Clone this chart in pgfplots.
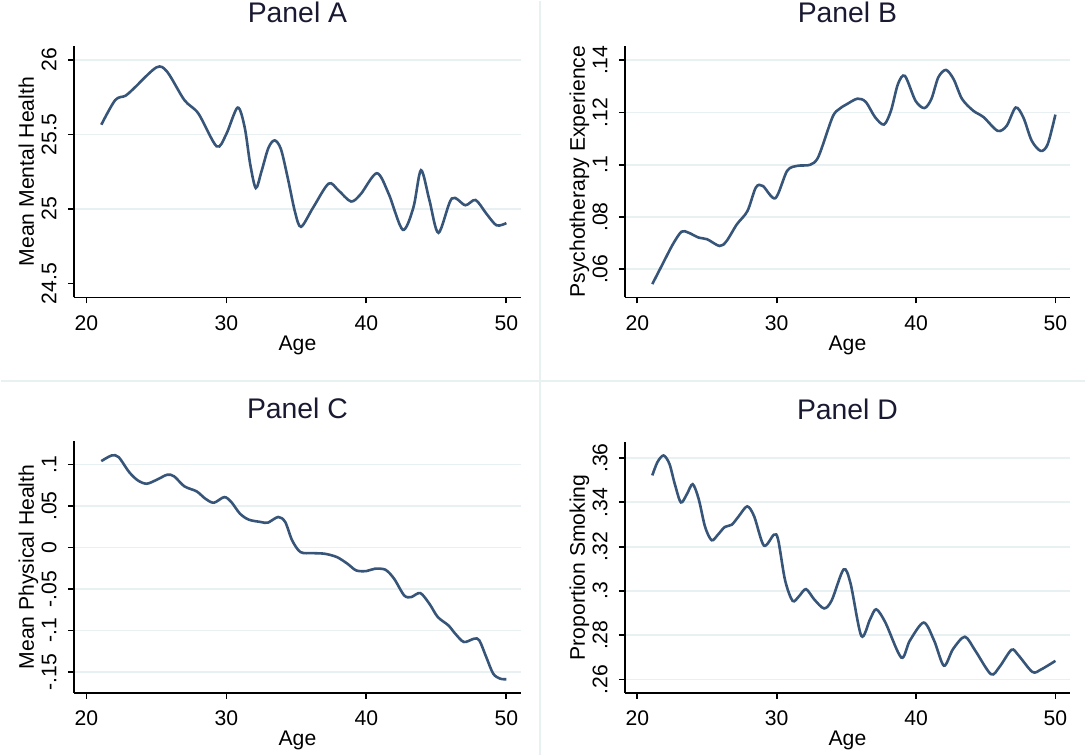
\documentclass[border=0pt]{standalone}
\usepackage{fontspec}
\setmainfont{Liberation Sans}
\usepackage{pgfplots}
\pgfplotsset{compat=1.18}
\definecolor{linec}{RGB}{55,85,120}
\definecolor{gridc}{RGB}{232,240,242}
\definecolor{titlec}{RGB}{25,25,50}

\pgfplotsset{stata/.style={
  scale only axis, anchor=south west,
  xmin=19.1, xmax=51.05,
  axis x line*=bottom, axis y line*=left,
  axis line style={line width=0.9pt, black, -},
  tick align=outside, major tick length=3pt,
  tick style={line width=0.9pt, black},
  xtick={20,30,40,50}, xticklabels={20,30,40,50},
  ymajorgrids, grid style={gridc, line width=0.9pt},
  tick label style={font=\fontsize{10.6}{12}\selectfont, inner sep=0pt},
  xticklabel style={anchor=north, yshift=-6pt},
  yticklabel style={xshift=-5.5pt, rotate=90, anchor=south},
  label style={font=\fontsize{10.6}{12}\selectfont, inner sep=0pt},
  xlabel style={at={([yshift=-26.5pt]axis description cs:0.5,0)}, anchor=base},
  ylabel style={at={([xshift=-20pt]axis description cs:0,0.5)}, anchor=base},
  title style={at={([yshift=5.5pt]axis description cs:0.5,1)}, anchor=base,
    font=\fontsize{14.2}{16}\selectfont, text=titlec, inner sep=0pt},
  xlabel={Age},
},
curve/.style={color=linec, line width=1.3pt, smooth, mark=none}}

\begin{document}
\begin{tikzpicture}
\path (0,0) rectangle (543pt,377.5pt);
\draw[gridc, line width=1pt] (270pt,0) -- (270pt,377.5pt);
\draw[gridc, line width=1pt] (0,187pt) -- (543pt,187pt);

% Panel A
\begin{axis}[stata, at={(36.5pt,229pt)}, width=224pt, height=126pt,
  ymin=24.406, ymax=26.094,
  ytick={25,25.5,26}, yticklabels={25,25.5,26},
  extra y ticks={24.5}, extra y tick labels={24.5}, extra y tick style={grid=none},
  ylabel={Mean Mental Health}, title={Panel A}]
\addplot[curve] coordinates {
(21.06,25.565) (22.05,25.73) (22.8,25.76) (23.4,25.81) (25.0,25.95) (25.77,25.92)
(27.0,25.73) (28.0,25.64) (29.3,25.42) (29.98,25.50) (30.8,25.68) (31.3,25.55)
(31.7,25.30) (32.1,25.14) (32.5,25.25) (33.0,25.41) (33.45,25.46) (33.9,25.40)
(34.4,25.20) (34.9,24.98) (35.33,24.88) (36.2,25.01)
(37.3,25.17) (38.0,25.125) (38.9,25.05) (39.6,25.10) (40.75,25.24) (41.6,25.10)
(42.6,24.86) (43.36,25.01) (43.9,25.26) (44.5,25.06) (45.15,24.84) (46.1,25.07)
(47.07,25.025) (47.8,25.06) (48.56,24.97) (49.3,24.89) (50,24.905)
};
\end{axis}

% Panel B
\begin{axis}[stata, at={(312.5pt,229pt)}, width=223pt, height=126pt,
  ymin=0.0492, ymax=0.1455,
  ytick={0.06,0.08,0.1,0.12,0.14}, yticklabels={.06,.08,.1,.12,.14},
  ylabel={Psychotherapy Experience}, title={Panel B}]
\addplot[curve] coordinates {
(21.07,.0543) (21.8,.0619) (22.55,.0696) (23.17,.0744) (23.67,.0740) (24.4,.0721)
(25.0,.0715) (25.9,.0689) (26.4,.0708) (27.14,.0772) (27.9,.0823) (28.5,.0913)
(29.0,.0919) (29.9,.0872) (30.75,.0977) (31.5,.0996) (32.4,.1000) (33.0,.1032)
(34.0,.1182) (34.5,.1214) (35.0,.1231) (35.8,.1253) (36.4,.1240) (37.06,.1182)
(37.7,.1154) (38.2,.1207) (38.7,.1309) (39.2,.1340) (39.96,.1245) (40.6,.1217)
(41.1,.1252) (41.6,.1335) (42.15,.1363) (42.7,.1327) (43.3,.1252) (44.1,.1207)
(44.85,.1182) (45.85,.1130) (46.5,.1149) (47.15,.1219) (47.7,.1181) (48.3,.1092)
(48.95,.1053) (49.45,.1079) (50.0,.1192)
};
\end{axis}

% Panel C
\begin{axis}[stata, at={(36.5pt,31pt)}, width=224pt, height=126pt,
  ymin=-0.1749, ymax=0.128,
  ytick={-0.15,-0.1,-0.05,0,0.05,0.1}, yticklabels={-.15,-.1,-.05,0,.05,.1},
  ylabel={Mean Physical Health}, title={Panel C}]
\addplot[curve] coordinates {
(21.06,.104) (21.8,.1108) (22.3,.1088) (23.05,.0908) (23.67,.0808) (24.3,.0768)
(25.03,.0816) (25.77,.0876) (26.27,.0856) (27.0,.0736) (27.87,.0676) (28.5,.0587)
(29.1,.0539) (29.85,.0607) (30.35,.0547) (30.97,.0407) (31.6,.0335) (32.46,.0307)
(32.96,.0299) (33.7,.0367) (34.2,.0307) (34.7,.0084) (35.3,-.0056) (36.2,-.0068)
(37.04,-.0076) (37.9,-.0116) (38.65,-.0196) (39.27,-.0276) (40.0,-.0284) (40.6,-.0256)
(41.36,-.0268) (41.98,-.0376) (42.7,-.0577) (43.2,-.0597) (43.85,-.0549) (44.5,-.0677)
(45.1,-.0837) (45.86,-.0938) (46.35,-.1038) (46.97,-.1138) (47.7,-.1098) (48.07,-.1118)
(48.56,-.1318) (49.06,-.1519) (49.55,-.1579) (50,-.1587)
};
\end{axis}

% Panel D
\begin{axis}[stata, at={(312.5pt,31pt)}, width=223pt, height=125.5pt,
  ymin=0.254, ymax=0.3672,
  ytick={0.26,0.28,0.3,0.32,0.34,0.36}, yticklabels={.26,.28,.3,.32,.34,.36},
  ylabel={Proportion Smoking}, title={Panel D}]
\addplot[curve] coordinates {
(21.07,.3522) (21.44,.3582) (21.88,.3612) (22.3,.3574) (22.68,.3484) (23.12,.3400)
(23.55,.3437) (23.97,.3482) (24.4,.3415) (24.86,.3289) (25.33,.3229) (25.78,.3254)
(26.27,.3289) (26.77,.3299) (27.27,.3337) (27.88,.3382) (28.38,.3337) (29.08,.3205)
(29.8,.3254) (30.1,.3232) (30.6,.3048) (31.14,.2955) (31.6,.2976) (32.1,.3008)
(32.7,.2961) (33.4,.2921) (33.95,.2958) (34.8,.3097) (35.3,.3033) (36.07,.2797)
(36.7,.2872) (37.14,.2917) (37.8,.2857) (38.94,.2699) (39.55,.2775) (40.55,.2857)
(41.3,.2775) (42.0,.2662) (42.65,.2737) (43.5,.2793) (44.25,.2730) (45.37,.2624)
(45.99,.2657) (46.85,.2734) (47.35,.2709) (48.35,.2634) (48.97,.2645) (50.0,.2684)
};
\end{axis}
\end{tikzpicture}
\end{document}
